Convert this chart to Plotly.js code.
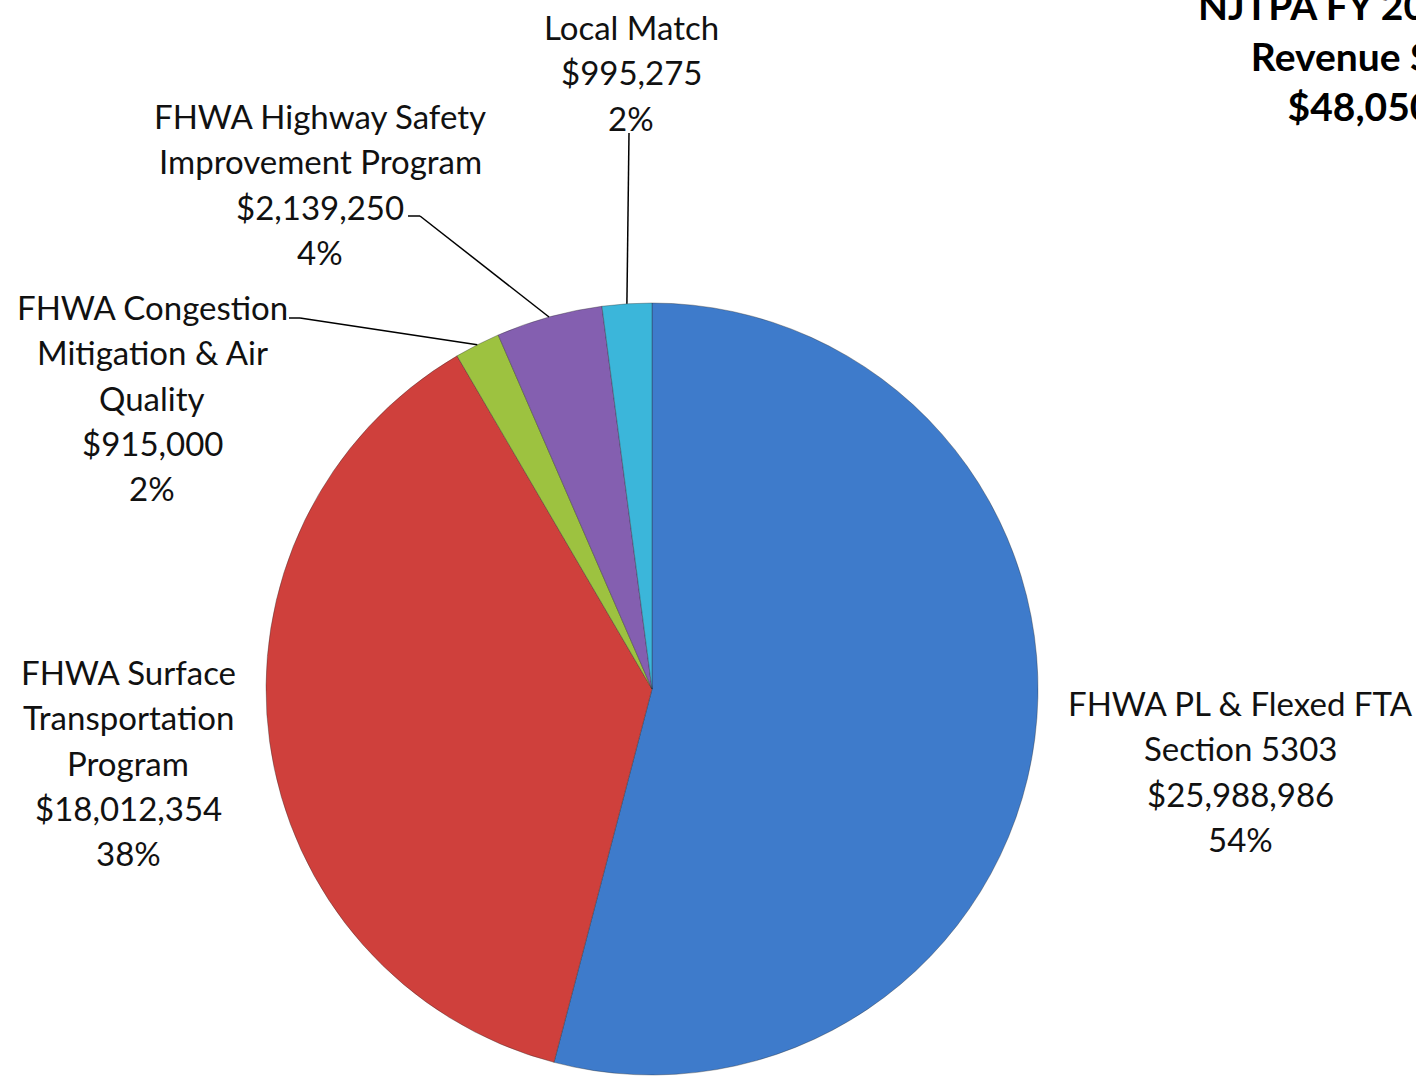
<!DOCTYPE html>
<html><head><meta charset="utf-8">
<script src="https://cdn.plot.ly/plotly-3.0.1.min.js"></script>
<style>html,body{margin:0;padding:0;background:#fff;} #chart{width:1416px;height:1082px;}</style>
</head><body><div id="chart"></div>
<script>
// ---- data ----
const categories = ["FHWA PL & Flexed FTA Section 5303", "FHWA Surface Transportation Program",
  "FHWA Congestion Mitigation & Air Quality", "FHWA Highway Safety Improvement Program", "Local Match"];
const values = [25988986, 18012354, 915000, 2139250, 995275];
const percents = [54, 38, 2, 4, 2];
const labelLines = [
  ["FHWA PL & Flexed FTA", "Section 5303"],
  ["FHWA Surface", "Transportation", "Program"],
  ["FHWA Congestion", "Mitigation & Air", "Quality"],
  ["FHWA Highway Safety", "Improvement Program"],
  ["Local Match"]
];
const titleLines = ["NJTPA FY 2014 UPWP", "Revenue Sources"];

// ---- styles / layout ----
const W = 1416, H = 1082;
const colors = ["#3E7BCB", "#CF403C", "#9DC240", "#845FB0", "#3BB6DA"];
const center = [652, 689], radius = 386;
const labelPos = [[1240, 703], [128, 672], [152, 307], [320, 116], [631, 27]];
const lineGap = 45.3;
const leaders = [null, null, [[289, 318], [300, 318]], [[408, 216], [420, 216]], [[629, 133]]];
const fontFam = "Lato, 'Open Sans', sans-serif";

const px = x => x / W, py = y => 1 - y / H;
const fmt = v => "$" + v.toLocaleString("en-US");
const total = values.reduce((a, b) => a + b, 0);

const annotations = [];
const shapes = [];
let cum = 0;
values.forEach((v, i) => {
  const lines = labelLines[i].concat([fmt(v), percents[i] + "%"]);
  lines.forEach((t, k) => {
    annotations.push({
      x: px(labelPos[i][0]), y: py(labelPos[i][1] + k * lineGap), xref: "paper", yref: "paper",
      text: t, showarrow: false, xanchor: "center", yanchor: "middle",
      font: {family: fontFam, size: 33, color: "#111"}
    });
  });
  const mid = (cum + v / 2) / total;
  cum += v;
  if (leaders[i]) {
    const ang = mid * 2 * Math.PI;
    const end = [center[0] + radius * Math.sin(ang), center[1] - radius * Math.cos(ang)];
    const pts = leaders[i].concat([end]);
    for (let k = 0; k < pts.length - 1; k++) {
      shapes.push({type: "line", xref: "paper", yref: "paper",
        x0: px(pts[k][0]), y0: py(pts[k][1]), x1: px(pts[k + 1][0]), y1: py(pts[k + 1][1]),
        line: {color: "#000", width: 1.5}});
    }
  }
});

annotations.push({
  x: 1398 / W, y: py(56), xref: "paper", yref: "paper", xanchor: "center", yanchor: "middle",
  showarrow: false, text: titleLines.concat([fmt(total)]).join("<br>"),
  font: {family: fontFam, size: 39, color: "#000", weight: "bold"}
});

const trace = {
  type: "pie", labels: categories, values: values, sort: false, direction: "clockwise", rotation: 0,
  textinfo: "none", hoverinfo: "label+value+percent",
  marker: {colors: colors, line: {color: "rgba(40,40,40,0.35)", width: 1}},
  domain: {x: [px(center[0] - radius), px(center[0] + radius)], y: [py(center[1] + radius), py(center[1] - radius)]}
};

Plotly.newPlot("chart", [trace], {
  width: W, height: H, margin: {l: 0, r: 0, t: 0, b: 0}, showlegend: false,
  paper_bgcolor: "#fff", annotations: annotations, shapes: shapes
}, {displayModeBar: false, staticPlot: true});
</script></body></html>
